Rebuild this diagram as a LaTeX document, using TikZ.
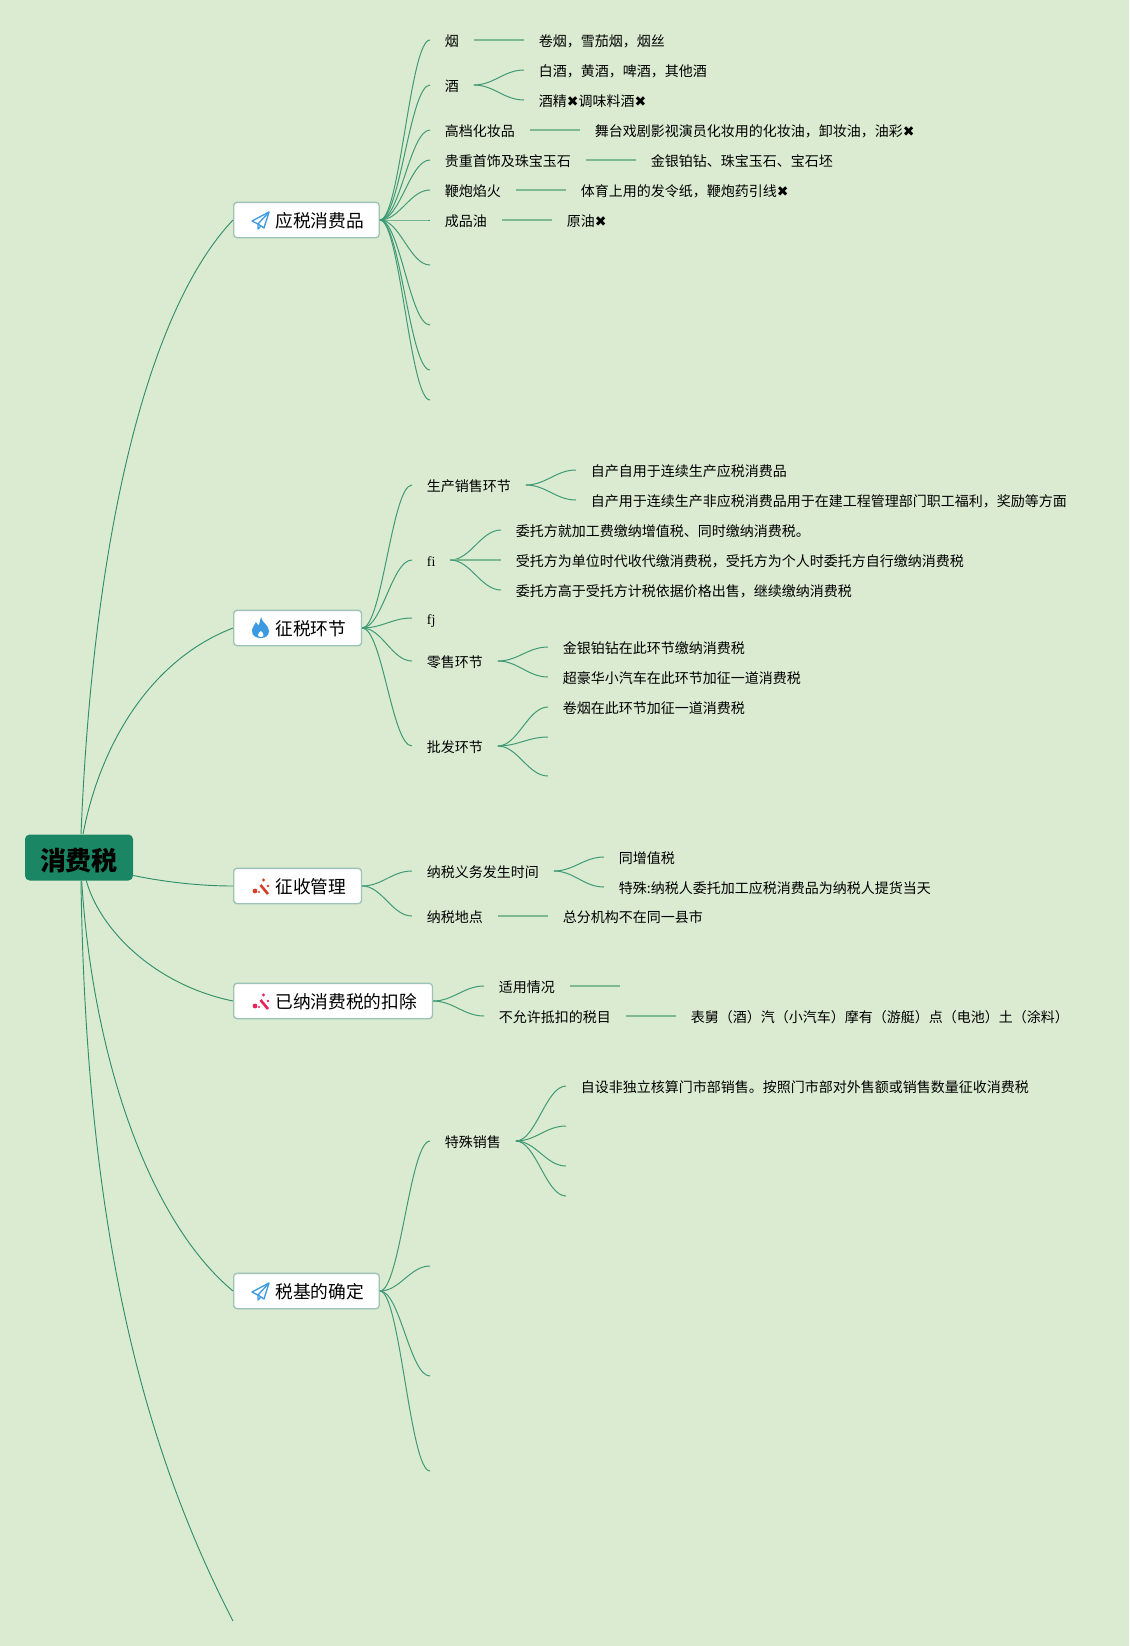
\documentclass[tikz,border=0pt]{standalone}
\usepackage{fontspec}
\setmainfont{Noto Sans CJK SC}
\newfontfamily\dingfont{DejaVu Sans}
\newfontfamily\latinfont{Liberation Serif}
\newcommand{\nope}{{\dingfont ✖}}
\definecolor{paper}{HTML}{DBEBD2}
\definecolor{trunk}{HTML}{2F8F6C}
\definecolor{limbc}{HTML}{3F9A76}
\definecolor{twigc}{HTML}{7DB991}
\definecolor{rootc}{HTML}{1B8663}
\definecolor{edgec}{HTML}{9CC3B5}
\definecolor{skyc}{HTML}{3C9BE0}
\definecolor{wandred}{HTML}{D4412B}
\definecolor{wandpink}{HTML}{E8265C}
\tikzset{
  root/.style={fill=rootc,rounded corners=3.5pt,minimum width=81pt,minimum height=34.5pt,inner sep=0pt,text height=24pt,text depth=4.7pt,font=\fontsize{19.5pt}{22pt}\selectfont\bfseries},
  topic/.style={anchor=west,draw=edgec,fill=white,line width=1pt,rounded corners=2.5pt,minimum height=26.5pt,inner xsep=11.5pt,inner ysep=0pt,text height=15.5pt,text depth=4pt,font=\fontsize{13.3pt}{16pt}\selectfont,execute at begin node={\hspace*{19.7pt}}},
  leaf/.style={anchor=west,inner xsep=11pt,inner ysep=0pt,text height=13pt,text depth=3pt,font=\fontsize{10.5pt}{12pt}\selectfont},
  stem/.style={draw=trunk,line width=0.7pt},
  limb/.style={draw=limbc,line width=0.75pt,out=0,in=180,out distance=15pt,in distance=15pt},
  twig/.style={draw=twigc,line width=1.1pt},
  plane/.pic={
    \draw[skyc,line width=1pt,line join=round] (17,0) -- (0,9) -- (6,12) -- (12,16) -- cycle;
    \draw[skyc,line width=1pt,line join=round] (17,0) -- (6,12) -- (6,17) -- (9,14);
  },
  flame/.pic={
    \fill[skyc] (9,0) .. controls (10,6) and (17,8) .. (17,14) .. controls (17,19) and (13,21) .. (9,21) .. controls (4,21) and (0,19) .. (0,14) .. controls (0,10) and (3,8) .. (4,5) .. controls (5,7) and (6,8) .. (7,8) .. controls (8,5) and (8,3) .. (9,0) -- cycle;
    \fill[white] (9,14) .. controls (10,15) and (11.5,16) .. (11.5,18) .. controls (11.5,19.5) and (10,20) .. (9,20) .. controls (7.5,20) and (6,19.5) .. (6,18) .. controls (6,16) and (8,15) .. (9,14) -- cycle;
  },
  wand/.pic={
    \draw[pic actions,fill=none,line width=2pt] (8.5,8) -- (16,17);
    \fill[pic actions,draw=none] (3,14) circle (2.4);
    \fill[pic actions,draw=none] (11.5,3) circle (1.7);
    \fill[pic actions,draw=none] (16,9) circle (1.4);
    \fill[pic actions,draw=none] (7,15) circle (1.2);
  }
}
\begin{document}
\begin{tikzpicture}[x=0.75pt,y=-0.75pt]
  \fill[paper] (0,0) rectangle (1129,1646);
  \useasboundingbox (0,0) rectangle (1129,1646);

  \node[root] (R) at (79,857.5) {消费税};
  \node[topic] (A) at (233,220) {应税消费品};
  \node[topic] (B) at (233,628) {征税环节};
  \node[topic] (C) at (233,886) {征收管理};
  \node[topic] (D) at (233,1001) {已纳消费税的扣除};
  \node[topic] (E) at (233,1291) {税基的确定};
  \coordinate (F) at (233,1621);

  \pic at (252,212) {plane};
  \pic at (252,617) {flame};
  \pic[draw=wandred,fill=wandred] at (252,877) {wand};
  \pic[draw=wandpink,fill=wandpink] at (252,992) {wand};
  \pic at (252,1283) {plane};

  \draw[stem] ([xshift=1.5pt]R.north) .. controls (93,540) and (146,312) .. (A.west);
  \draw[stem] ([xshift=3pt]R.north) .. controls (100,745) and (150,660) .. (B.west);
  \draw[stem] ([yshift=-13.5pt]R.east) .. controls (165,882) and (200,886) .. (C.west);
  \draw[stem] ([xshift=5.5pt]R.south) .. controls (100,930) and (155,985) .. (D.west);
  \draw[stem] ([xshift=2pt]R.south) .. controls (93,1060) and (150,1222) .. (E.west);
  \draw[stem] ([xshift=1.5pt]R.south) .. controls (86,1236) and (145,1450) .. (F);

  \node[leaf] (A1) at (430,40) {烟};
  \node[leaf] (A2) at (430,85) {酒};
  \node[leaf] (A3) at (430,130) {高档化妆品};
  \node[leaf] (A4) at (430,160) {贵重首饰及珠宝玉石};
  \node[leaf] (A5) at (430,190) {鞭炮焰火};
  \node[leaf] (A6) at (430,220) {成品油};
  \coordinate (A7) at (430,265);
  \coordinate (A8) at (430,325);
  \coordinate (A9) at (430,370);
  \coordinate (A10) at (430,400);
  \foreach \n in {A1,A2,A3,A4,A5,A6,A7,A8,A9,A10}
    \draw[limb] (A) to (\n);

  \node[leaf] (A1a) at (524,40) {卷烟，雪茄烟，烟丝};
  \node[leaf] (A2a) at (524,70) {白酒，黄酒，啤酒，其他酒};
  \node[leaf] (A2b) at (524,100) {酒精\nope 调味料酒\nope};
  \node[leaf] (A3a) at (580,130) {舞台戏剧影视演员化妆用的化妆油，卸妆油，油彩\nope};
  \node[leaf] (A4a) at (636,160) {金银铂钻、珠宝玉石、宝石坯};
  \node[leaf] (A5a) at (566,190) {体育上用的发令纸，鞭炮药引线\nope};
  \node[leaf] (A6a) at (552,220) {原油\nope};
  \draw[twig] (A1) -- (A1a);
  \draw[limb] (A2) to (A2a);
  \draw[limb] (A2) to (A2b);
  \draw[twig] (A3) -- (A3a);
  \draw[twig] (A4) -- (A4a);
  \draw[twig] (A5) -- (A5a);
  \draw[twig] (A6) -- (A6a);

  \node[leaf] (B1) at (412,485) {生产销售环节};
  \node[leaf] (B2) at (412,560) {{\latinfont fi}};
  \node[leaf] (B3) at (412,618) {{\latinfont fj}};
  \node[leaf] (B4) at (412,661) {零售环节};
  \node[leaf] (B5) at (412,746) {批发环节};
  \foreach \n in {B1,B2,B3,B4,B5}
    \draw[limb] (B) to (\n);

  \node[leaf] (B1a) at (576,470) {自产自用于连续生产应税消费品};
  \node[leaf] (B1b) at (576,500) {自产用于连续生产非应税消费品用于在建工程管理部门职工福利，奖励等方面};
  \node[leaf] (B2a) at (501,530) {委托方就加工费缴纳增值税、同时缴纳消费税。};
  \node[leaf] (B2b) at (501,560) {受托方为单位时代收代缴消费税，受托方为个人时委托方自行缴纳消费税};
  \node[leaf] (B2c) at (501,590) {委托方高于受托方计税依据价格出售，继续缴纳消费税};
  \node[leaf] (B4a) at (548,647) {金银铂钻在此环节缴纳消费税};
  \node[leaf] (B4b) at (548,677) {超豪华小汽车在此环节加征一道消费税};
  \node[leaf] (B5a) at (548,707) {卷烟在此环节加征一道消费税};
  \coordinate (B5b) at (548,737);
  \coordinate (B5c) at (548,776);
  \draw[limb] (B1) to (B1a);
  \draw[limb] (B1) to (B1b);
  \draw[limb] (B2) to (B2a);
  \draw[twig] (B2) -- (B2b);
  \draw[limb] (B2) to (B2c);
  \draw[limb] (B4) to (B4a);
  \draw[limb] (B4) to (B4b);
  \draw[limb] (B5) to (B5a);
  \draw[limb] (B5) to (B5b);
  \draw[limb] (B5) to (B5c);

  \node[leaf] (C1) at (412,871) {纳税义务发生时间};
  \node[leaf] (C2) at (412,916) {纳税地点};
  \node[leaf] (C1a) at (604,857) {同增值税};
  \node[leaf] (C1b) at (604,887) {特殊:纳税人委托加工应税消费品为纳税人提货当天};
  \node[leaf] (C2a) at (548,916) {总分机构不在同一县市};
  \draw[limb] (C) to (C1);
  \draw[limb] (C) to (C2);
  \draw[limb] (C1) to (C1a);
  \draw[limb] (C1) to (C1b);
  \draw[twig] (C2) -- (C2a);

  \node[leaf] (D1) at (484,986) {适用情况};
  \node[leaf] (D2) at (484,1016) {不允许抵扣的税目};
  \coordinate (D1a) at (620,986);
  \node[leaf] (D2a) at (676,1016) {表舅（酒）汽（小汽车）摩有（游艇）点（电池）土（涂料）};
  \draw[limb] (D) to (D1);
  \draw[limb] (D) to (D2);
  \draw[twig] (D1) -- (D1a);
  \draw[twig] (D2) -- (D2a);

  \node[leaf] (E1) at (430,1141) {特殊销售};
  \coordinate (E2) at (430,1266);
  \coordinate (E3) at (430,1376);
  \coordinate (E4) at (430,1471);
  \foreach \n in {E1,E2,E3,E4}
    \draw[limb] (E) to (\n);
  \node[leaf] (E1a) at (566,1086) {自设非独立核算门市部销售。按照门市部对外售额或销售数量征收消费税};
  \coordinate (E1b) at (566,1126);
  \coordinate (E1c) at (566,1166);
  \coordinate (E1d) at (566,1196);
  \foreach \n in {E1a,E1b,E1c,E1d}
    \draw[limb] (E1) to (\n);
\end{tikzpicture}
\end{document}
